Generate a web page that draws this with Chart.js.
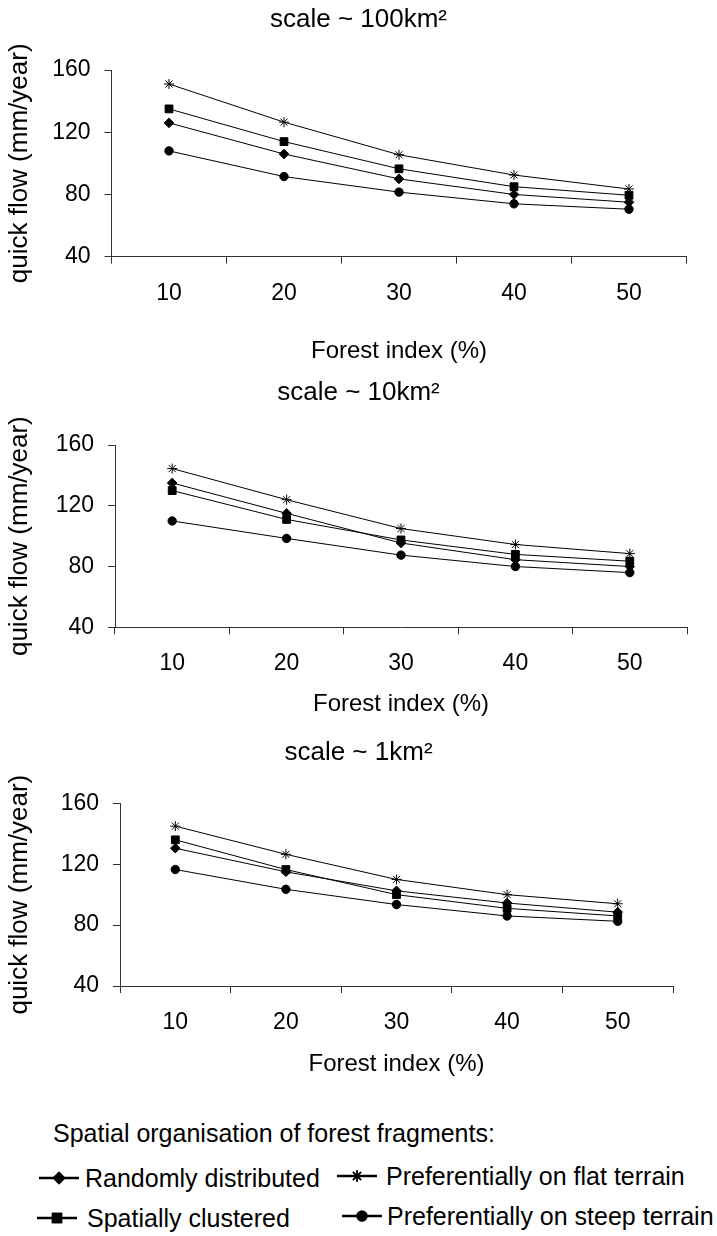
<!DOCTYPE html>
<html>
<head>
<meta charset="utf-8">
<script src="https://cdn.jsdelivr.net/npm/chart.js@4.4.1/dist/chart.umd.min.js"></script>
<style>
  body { margin: 0; background: #fff; width: 717px; height: 1236px; position: relative; overflow: hidden; font-family: "Liberation Sans", Arial, sans-serif; color: #000; }
  .panel { position: absolute; left: 0; width: 717px; }
  .legend-text { position: absolute; font-size: 25px; line-height: 28px; white-space: nowrap; }
  .legend-icon { position: absolute; }
</style>
</head>
<body>
<div class="panel" style="top:0px"><canvas id="c1" width="717" height="366"></canvas></div>
<div class="panel" style="top:366px"><canvas id="c2" width="717" height="353"></canvas></div>
<div class="panel" style="top:719px"><canvas id="c3" width="717" height="360"></canvas></div>
<div id="legend"></div>

<script>
// categories / ticks
const forestIndex = ['10', '20', '30', '40', '50']
const yTicks = [40, 80, 120, 160]

const seriesNames = [
  'Randomly distributed',
  'Spatially clustered',
  'Preferentially on flat terrain',
  'Preferentially on steep terrain'
]
const seriesMarkers = ['rectRot', 'rect', 'star', 'circle']

const scaleTitles = ['scale ~ 100km²', 'scale ~ 10km²', 'scale ~ 1km²']

// scale ~ 100km2
const random100 = [126, 106, 90, 80, 75]
const clustered100 = [135, 114, 96.5, 85, 79.5]
const flat100 = [151, 126.5, 105.5, 92.5, 83.5]
const steep100 = [108, 91.5, 81.5, 74, 70.5]

// scale ~ 10km2
const random10 = [135, 115, 95.5, 84.5, 80]
const clustered10 = [130, 111, 97.5, 88, 83.5]
const flat10 = [144.5, 124, 105, 94.5, 88.5]
const steep10 = [110, 98.5, 87.5, 80, 76]

// scale ~ 1km2
const random1 = [130.5, 115, 102.5, 94.5, 88.5]
const clustered1 = [136, 116.5, 100, 91, 86]
const flat1 = [145, 126.5, 110, 100, 94]
const steep1 = [116.5, 103.5, 93.5, 86, 82.5]

// marker sizes per style
const markerRadius = { rectRot: 4.8, rect: 5.5, star: 5, circle: 4.2 }

const FONT = '"Liberation Sans", Arial, sans-serif'
const AXIS = '#333'

// page layout of each panel (px)
const panels = [
  { id: 'c1', title: scaleTitles[0], values: [random100, clustered100, flat100, steep100],
    top: 0, height: 366, left: 111.5, right: 686.5, bottom: 256.7, titlePad: { top: 4.4, bottom: 34.4 } },
  { id: 'c2', title: scaleTitles[1], values: [random10, clustered10, flat10, steep10],
    top: 366, height: 353, left: 115, right: 687, bottom: 627.3, titlePad: { top: 11.4, bottom: 36.4 } },
  { id: 'c3', title: scaleTitles[2], values: [random1, clustered1, flat1, steep1],
    top: 719, height: 360, left: 120, right: 673, bottom: 986, titlePad: { top: 17.9, bottom: 35.2 } }
]

const makeChart = p => {
  const datasets = seriesNames.map((name, i) => ({
    label: name,
    data: p.values[i],
    borderColor: '#000',
    backgroundColor: '#000',
    borderWidth: 1,
    pointStyle: seriesMarkers[i],
    pointRadius: markerRadius[seriesMarkers[i]],
    pointBorderWidth: 1,
    pointBackgroundColor: '#000',
    pointBorderColor: '#000',
    tension: 0
  }))

  return new Chart(document.getElementById(p.id), {
    type: 'line',
    data: { labels: forestIndex, datasets: datasets },
    options: {
      responsive: false,
      animation: false,
      layout: { padding: 0 },
      plugins: {
        legend: { display: false },
        tooltip: { enabled: false },
        title: {
          display: true,
          text: p.title,
          color: '#000',
          font: { family: FONT, size: 26, weight: 'normal' },
          padding: p.titlePad
        }
      },
      scales: {
        x: {
          type: 'category',
          offset: true,
          grid: { offset: true, drawOnChartArea: false, drawTicks: true, tickLength: 7, color: AXIS },
          border: { display: true, color: AXIS, width: 1 },
          ticks: { color: '#000', padding: 16, font: { family: FONT, size: 23 }, maxRotation: 0 },
          title: {
            display: true,
            text: 'Forest index (%)',
            color: '#000',
            font: { family: FONT, size: 24 },
            padding: 0
          },
          afterFit: s => { s.height = p.top + p.height - p.bottom }
        },
        y: {
          min: 40,
          max: 160,
          grid: { drawOnChartArea: false, drawTicks: true, tickLength: 7, color: AXIS },
          border: { display: true, color: AXIS, width: 1 },
          ticks: { color: '#000', padding: 14, font: { family: FONT, size: 23 } },
          afterBuildTicks: s => { s.ticks = yTicks.map(v => ({ value: v })) },
          title: {
            display: true,
            text: 'quick flow (mm/year)',
            color: '#000',
            font: { family: FONT, size: 26 },
            padding: { top: 4.4, bottom: 0 }
          },
          afterFit: s => { s.width = p.left }
        },
        // empty right gutter so the title centres on the whole panel
        gutter: {
          type: 'linear',
          position: 'right',
          grid: { display: false },
          border: { display: false },
          ticks: { display: false },
          afterFit: s => { s.width = 717 - p.right }
        }
      }
    }
  })
}

const charts = panels.map(makeChart)

// LEGEND (html, icons drawn with Chart.js point helper)
const legendSpots = [
  { icon: 39, text: 85, y: 1178 },
  { icon: 37, text: 87, y: 1218 },
  { icon: 337, text: 386, y: 1176 },
  { icon: 342, text: 387, y: 1216 }
]

const legend = document.getElementById('legend')
const header = document.createElement('div')
header.className = 'legend-text'
header.style.left = '53px'
header.style.top = (1133 - 14) + 'px'
header.textContent = 'Spatial organisation of forest fragments:'
legend.appendChild(header)

seriesNames.forEach((name, i) => {
  const spot = legendSpots[i]
  const c = document.createElement('canvas')
  c.width = 40
  c.height = 20
  c.className = 'legend-icon'
  c.style.left = spot.icon + 'px'
  c.style.top = (spot.y - 10) + 'px'
  legend.appendChild(c)
  const ctx = c.getContext('2d')
  ctx.strokeStyle = '#000'
  ctx.lineWidth = 2.5
  ctx.beginPath()
  ctx.moveTo(0, 10)
  ctx.lineTo(40, 10)
  ctx.stroke()
  ctx.fillStyle = '#000'
  ctx.lineWidth = 1.5
  Chart.helpers.drawPoint(ctx, {
    pointStyle: seriesMarkers[i],
    radius: markerRadius[seriesMarkers[i]] * 1.15,
    rotation: 0,
    borderWidth: 1.5
  }, 20, 10)
  if (seriesMarkers[i] !== 'star') ctx.fill()
  ctx.stroke()

  const t = document.createElement('div')
  t.className = 'legend-text'
  t.style.left = spot.text + 'px'
  t.style.top = (spot.y - 14) + 'px'
  t.textContent = name
  legend.appendChild(t)
})
</script>
</body>
</html>
